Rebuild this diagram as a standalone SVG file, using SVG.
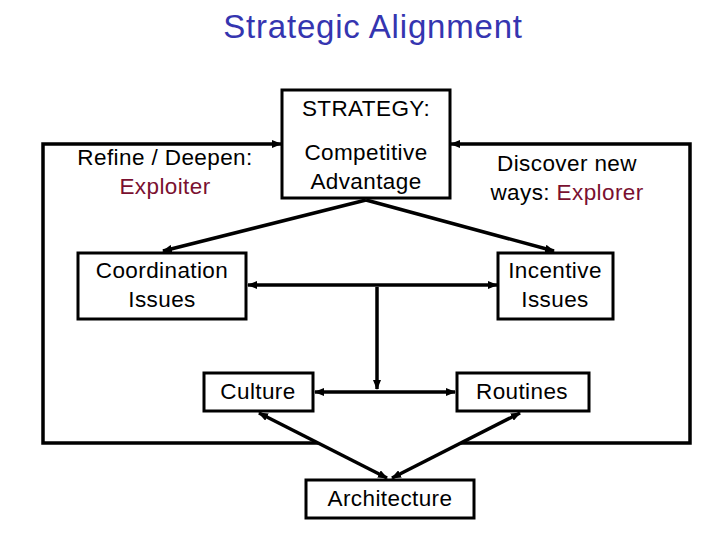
<svg xmlns="http://www.w3.org/2000/svg" width="720" height="540" viewBox="0 0 720 540">
<style>
.box{fill:#fff;stroke:#000;stroke-width:3}
.t{font-family:"Liberation Sans",Arial,sans-serif;font-size:22.5px;letter-spacing:0.4px;fill:#000;text-anchor:middle}
.red{fill:#7a1030}
.c{fill:none;stroke:#000;stroke-width:3.5}
</style>
<defs>
<marker id="ah" viewBox="0 0 10 8" refX="9" refY="4" markerWidth="10" markerHeight="8" markerUnits="userSpaceOnUse" orient="auto-start-reverse">
<path d="M0,0 L10,4 L0,8 z" fill="#000"/>
</marker>
</defs>
<rect width="720" height="540" fill="#fff"/>
<text x="373" y="38" style="font-family:'Liberation Sans',Arial,sans-serif;font-size:33px;letter-spacing:0.8px;fill:#3535b0;text-anchor:middle">Strategic Alignment</text>
<g id="connectors">
<polyline class="c" points="318,443 43,443 43,144 281,144" marker-end="url(#ah)"/>
<polyline class="c" points="461,443 690,443 690,144 451,144" marker-end="url(#ah)"/>
<line class="c" x1="366" y1="200" x2="163" y2="251" marker-end="url(#ah)"/>
<line class="c" x1="366" y1="200" x2="554" y2="251" marker-end="url(#ah)"/>
<line class="c" x1="248" y1="285" x2="497" y2="285" marker-start="url(#ah)" marker-end="url(#ah)"/>
<line class="c" x1="377" y1="287" x2="377" y2="389" marker-end="url(#ah)"/>
<line class="c" x1="315" y1="392" x2="455" y2="392" marker-start="url(#ah)" marker-end="url(#ah)"/>
<line class="c" x1="259" y1="413" x2="387" y2="478" marker-start="url(#ah)" marker-end="url(#ah)"/>
<line class="c" x1="520" y1="413" x2="392" y2="478" marker-start="url(#ah)" marker-end="url(#ah)"/>
</g>
<g id="strategy">
<rect class="box" x="282" y="90" width="168" height="108"/>
<text class="t" x="366" y="116">STRATEGY:</text>
<text class="t" x="366" y="160">Competitive</text>
<text class="t" x="366" y="189">Advantage</text>
</g>
<g id="exploiter">
<text class="t" x="165" y="165">Refine / Deepen:</text>
<text class="t red" x="165" y="194">Exploiter</text>
</g>
<g id="explorer">
<text class="t" x="567" y="171">Discover new</text>
<text class="t" x="567" y="200"><tspan>ways: </tspan><tspan class="red">Explorer</tspan></text>
</g>
<g id="coordination">
<rect class="box" x="78" y="253" width="168" height="66"/>
<text class="t" x="162" y="278">Coordination</text>
<text class="t" x="162" y="307">Issues</text>
</g>
<g id="incentive">
<rect class="box" x="498" y="253" width="115" height="66"/>
<text class="t" x="555" y="278">Incentive</text>
<text class="t" x="555" y="307">Issues</text>
</g>
<g id="culture">
<rect class="box" x="204" y="373" width="109" height="38"/>
<text class="t" x="258" y="399">Culture</text>
</g>
<g id="routines">
<rect class="box" x="457" y="373" width="132" height="38"/>
<text class="t" x="522" y="399">Routines</text>
</g>
<g id="architecture">
<rect class="box" x="306" y="480" width="168" height="38"/>
<text class="t" x="390" y="506">Architecture</text>
</g>
</svg>
